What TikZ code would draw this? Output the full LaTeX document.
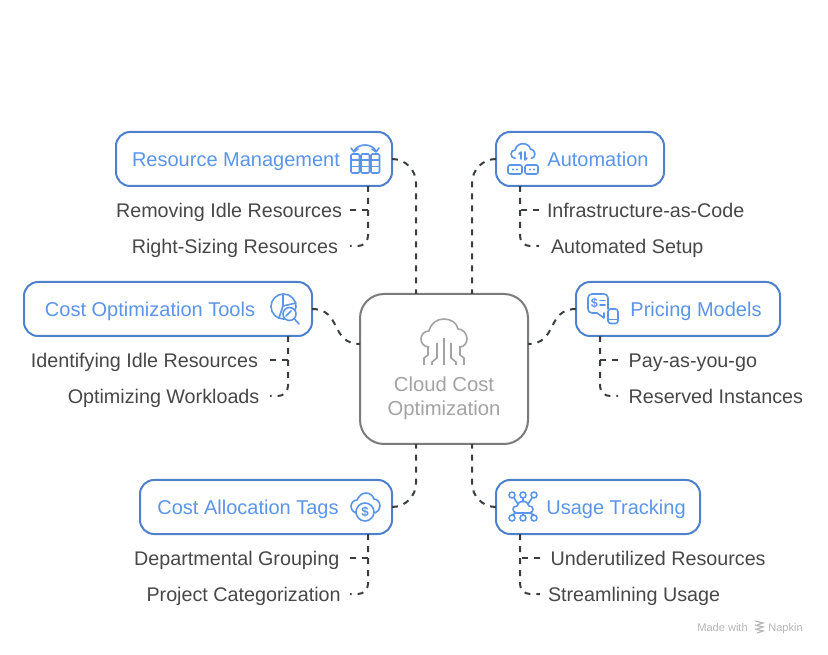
\documentclass[tikz,border=0pt]{standalone}
\usepackage{fontspec}
\setmainfont{Liberation Sans}
\usetikzlibrary{positioning}
\definecolor{boxblue}{HTML}{4F80CC}
\definecolor{titleblue}{HTML}{5B95EA}
\definecolor{coregrey}{HTML}{7B7B7B}
\definecolor{coretext}{HTML}{A3A3A3}
\definecolor{darktext}{HTML}{474747}
\definecolor{linkdark}{HTML}{3A3D40}
\definecolor{markgrey}{HTML}{B5B5B5}

\begin{document}
\begin{tikzpicture}[
        x=0.75pt, y=-0.75pt,
        % the blue boxes and the box in the middle
        box/.style={rectangle, draw=boxblue, line width=1.5pt, fill=white, rounded corners=10.5pt, minimum height=40.5pt, outer sep=0pt, inner sep=0pt},
        corebox/.style={rectangle, draw=coregrey, line width=1.5pt, fill=white, rounded corners=18pt, minimum width=126pt, minimum height=112.5pt, outer sep=0pt, inner sep=0pt},
        % the texts
        title/.style={text=titleblue, font=\fontsize{15}{18}\selectfont, inner sep=0pt, text height=10.7pt, text depth=0pt},
        leftitem/.style={text=darktext, font=\fontsize{14.8}{18}\selectfont, anchor=east, inner xsep=6pt, inner ysep=0pt, outer sep=0pt, text height=10.6pt, text depth=0pt},
        rightitem/.style={text=darktext, font=\fontsize{14.8}{18}\selectfont, anchor=west, inner xsep=6pt, inner ysep=0pt, outer sep=0pt, text height=10.6pt, text depth=0pt},
        coretitle/.style={text=coretext, font=\fontsize{15.2}{18}\selectfont, inner sep=0pt, text height=10.7pt, text depth=0pt},
        marktext/.style={text=markgrey, inner sep=0pt, font=\fontsize{8.3}{10}\selectfont, text height=6pt, text depth=0pt},
        % the dashed lines
        link/.style={draw=linkdark, line width=1.5pt, dash pattern=on 4.5pt off 4.5pt},
        bigbend/.style={link, rounded corners=18pt},
        smallbend/.style={link, rounded corners=7.5pt},
        % the small pictures
        icon/.style={draw=titleblue, line width=1.2pt, line join=round, line cap=round},
        coreicon/.style={draw=coretext, line width=1.2pt, line join=round},
        cloudshape/.pic={
            \path[pic actions] (-15,14) .. controls (-20,14) and (-23,10) .. (-23,6)
                .. controls (-23,2) and (-20,-2) .. (-15,-2)
                .. controls (-13,-10) and (-7,-14) .. (0,-14)
                .. controls (7,-14) and (13,-10) .. (14,-4)
                .. controls (19,-4) and (23,1) .. (23,6)
                .. controls (23,10) and (20,14) .. (16,14);
        }
    ]
    \useasboundingbox (0,0) rectangle (828,655);

    % --- THE BOXES ---
    \node (core) [corebox] at (444,369) {};
    \node (resource) [box, minimum width=207pt] at (254,159) {};
    \node (automation) [box, minimum width=126pt] at (580,159) {};
    \node (costtools) [box, minimum width=216pt] at (168,309) {};
    \node (pricing) [box, minimum width=153pt] at (678,309) {};
    \node (allocation) [box, minimum width=189pt] at (266,507) {};
    \node (usage) [box, minimum width=153pt] at (598,507) {};

    % --- THE TITLES ---
    \node (coretextone) [coretitle] at (444,384) {Cloud Cost};
    \node (coretexttwo) [coretitle] at (444,408) {Optimization};
    \node (resourcetext) [title] at (236,159) {Resource Management};
    \node (automationtext) [title] at (598,159) {Automation};
    \node (costtoolstext) [title] at (150,309) {Cost Optimization Tools};
    \node (pricingtext) [title] at (696,309) {Pricing Models};
    \node (allocationtext) [title] at (248,507) {Cost Allocation Tags};
    \node (usagetext) [title] at (616,507) {Usage Tracking};

    % --- THE ITEMS ---
    \node (idle) [leftitem] at (350,210) {Removing Idle Resources};
    \node (sizing) [leftitem, inner xsep=9pt] at (350,246) {Right-Sizing Resources};
    \node (iac) [rightitem] at (539,210) {Infrastructure-as-Code};
    \node (setup) [rightitem, inner xsep=9pt] at (539,246) {Automated Setup};
    \node (finding) [leftitem, inner xsep=9pt] at (270,360) {Identifying Idle Resources};
    \node (workloads) [leftitem, inner xsep=8pt] at (270,396) {Optimizing Workloads};
    \node (payg) [rightitem, inner xsep=8pt] at (618,360) {Pay-as-you-go};
    \node (reserved) [rightitem, inner xsep=8pt] at (618,396) {Reserved Instances};
    \node (grouping) [leftitem, inner xsep=8pt] at (350,558) {Departmental Grouping};
    \node (project) [leftitem, inner xsep=7pt] at (350,594) {Project Categorization};
    \node (underused) [rightitem, inner xsep=8pt] at (540,558) {Underutilized Resources};
    \node (streamline) [rightitem, inner xsep=6pt] at (540,594) {Streamlining Usage};

    % --- THE POINTS ON THE BOX EDGES ---
    \coordinate (coreNW) at (416,294);
    \coordinate (coreNE) at (472,294);
    \coordinate (coreSW) at (416,444);
    \coordinate (coreSE) at (472,444);
    \coordinate (coreW) at (360,344);
    \coordinate (coreE) at (528,344);
    \coordinate (resourcefoot) at (368,186);
    \coordinate (automationfoot) at (520,186);
    \coordinate (costtoolsfoot) at (288,336);
    \coordinate (pricingfoot) at (600,336);
    \coordinate (allocationfoot) at (368,534);
    \coordinate (usagefoot) at (520,534);

    % --- THE LINES TO THE MIDDLE ---
    \draw [bigbend] (resource.east) -| (coreNW);
    \draw [bigbend] (automation.west) -| (coreNE);
    \draw [bigbend] (allocation.east) -| (coreSW);
    \draw [bigbend] (usage.west) -| (coreSE);
    \draw [link] (costtools.east) .. controls (342,309) and (330,344) .. (coreW);
    \draw [link] (pricing.west) .. controls (546,309) and (558,344) .. (coreE);

    % --- THE LINES TO THE ITEMS ---
    \draw [smallbend] (resourcefoot) |- (sizing.east);
    \draw [link] (idle.east) -- (idle.east -| resourcefoot);
    \draw [smallbend] (automationfoot) |- (setup.west);
    \draw [link] (iac.west) -- (iac.west -| automationfoot);
    \draw [smallbend] (costtoolsfoot) |- (workloads.east);
    \draw [link] (finding.east) -- (finding.east -| costtoolsfoot);
    \draw [smallbend] (pricingfoot) |- (reserved.west);
    \draw [link] (payg.west) -- (payg.west -| pricingfoot);
    \draw [smallbend] (allocationfoot) |- (project.east);
    \draw [link] (grouping.east) -- (grouping.east -| allocationfoot);
    \draw [smallbend] (usagefoot) |- (streamline.west);
    \draw [link] (underused.west) -- (underused.west -| usagefoot);

    % --- THE ICONS ---
    % middle
    \pic [coreicon] at (444,333) {cloudshape};
    \draw [coreicon] (444,338) -- (444,365);
    \draw [coreicon] (437,343) -- (437,358) -- (432,362) -- (432,365);
    \draw [coreicon] (451,343) -- (451,358) -- (456,362) -- (456,365);
    \draw [coreicon] (428,346) -- (428,355) -- (424,358) -- (424,365);
    \draw [coreicon] (460,346) -- (460,355) -- (464,358) -- (464,365);

    % resource management
    \foreach \col in {351,361,371} {
        \draw [icon, rounded corners=1pt] (\col,154) rectangle ++(8.5,19);
        \draw [icon] (\col,160) -- ++(8.5,0);
        \draw [icon] (\col,166.5) -- ++(8.5,0);
    }
    \draw [icon] (354,151) .. controls (358,143) and (372,143) .. (376,151);
    \draw [icon] (351,148) -- (354,152) -- (358,149);
    \draw [icon] (372,149) -- (376,152) -- (379,148);

    % automation
    \pic [icon, scale=0.52] at (523,151) {cloudshape};
    \draw [icon] (521,159) -- (521,152) -- (519,154);
    \draw [icon] (525,152) -- (525,160) -- (527,158);
    \draw [icon, rounded corners=1.5pt] (508,165) rectangle (522,174);
    \draw [icon, rounded corners=1.5pt] (525,165) rectangle (538,174);
    \foreach \dotx in {513,517,530,534} {
        \fill [titleblue] (\dotx,169.5) circle (1.1);
    }

    % cost optimization tools
    \draw [icon] (283.5,306.5) circle (12.5);
    \draw [icon] (283,294) -- (283,306) -- (279,318);
    \draw [icon] (283,306) -- (296,303);
    \draw [icon, fill=white] (289.5,314) circle (6.5);
    \draw [icon] (286,316) -- (291,311);
    \draw [icon] (294.5,319) -- (299,324);

    % pricing models
    \draw [icon, rounded corners=3pt] (608,309) -- (608,294) -- (588,294) -- (588,313) -- (597,313);
    \draw [icon] (597,313) -- (604,318) -- (604,313);
    \node (pricingdollar) [text=titleblue, inner sep=0pt, font=\fontsize{9.5}{10}\bfseries\selectfont] at (594.5,303) {\$};
    \draw [icon] (600,300.5) -- (605,300.5);
    \draw [icon] (600,305) -- (605,305);
    \draw [icon, rounded corners=2pt] (608,309) rectangle (618,323.5);
    \draw [icon] (608,319.5) -- (618,319.5);

    % cost allocation tags
    \draw [icon] (357,513) .. controls (354,513) and (351,510) .. (351,506) .. controls (351,503) and (354,500) .. (357,500) .. controls (359,496) and (362,493) .. (366,493) .. controls (370,493) and (373,496) .. (374,499) .. controls (377,499) and (380,502) .. (380,506) .. controls (380,509) and (378,512) .. (375,513);
    \draw [icon, fill=white] (365,512) circle (9);
    \node (allocationdollar) [text=titleblue, inner sep=0pt, font=\fontsize{10}{10}\bfseries\selectfont] at (365,512) {\$};

    % usage tracking
    \foreach \dotx in {512,523,534} {
        \draw [icon] (\dotx,495) circle (3);
        \draw [icon] (\dotx,518) circle (3);
    }
    \draw [icon] (523,498) -- (523,502);
    \draw [icon] (514,498) -- (518,504);
    \draw [icon] (532,498) -- (528,504);
    \draw [icon] (523,513) -- (523,515);
    \draw [icon] (512,515) -- (516,513);
    \draw [icon] (534,515) -- (530,513);
    \draw [icon] (517,513) .. controls (514,513) and (513,511) .. (513,509) .. controls (513,507) and (515,506) .. (517,506) .. controls (518,503) and (520,501) .. (523,501) .. controls (526,501) and (528,503) .. (529,506) .. controls (531,506) and (533,507) .. (533,509) .. controls (533,511) and (532,513) .. (529,513) -- cycle;

    % --- THE MARK IN THE CORNER ---
    \node (madewith) [marktext] at (722.5,627) {Made with};
    \node (napkin) [marktext] at (785.5,627) {Napkin};
    \foreach \marky in {623,627,631} {
        \draw [draw=markgrey, line width=0.9pt] (755,\marky-2) -- (763,\marky) -- (757,\marky+2);
    }

\end{tikzpicture}
\end{document}
